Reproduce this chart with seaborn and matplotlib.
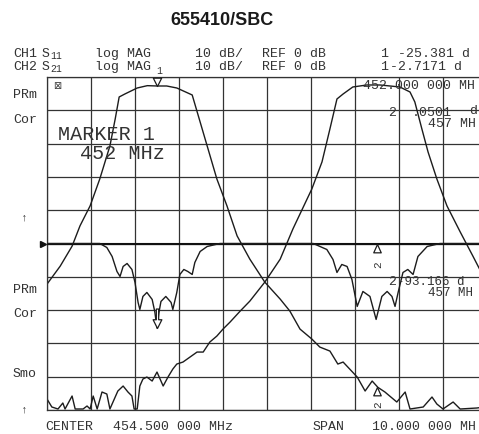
import matplotlib
matplotlib.use('Agg')
import matplotlib.pyplot as plt
import seaborn as sns
import numpy as np
from matplotlib.path import Path

# ---- data (MHz, dB) ----
s21_lo_freq = [449.50, 449.80, 450.07, 450.25, 450.48, 450.70, 450.93, 451.05, 451.14, 451.27,
               451.55, 451.78, 452.00, 452.22, 452.45, 452.80, 452.98, 453.14, 453.36, 453.59,
               453.82, 454.11, 454.45, 454.80, 455.02, 455.25, 455.52, 455.70, 455.93, 456.11,
               456.23, 456.55, 456.73, 456.89, 457.02, 457.18, 457.45, 457.64, 457.75, 458.05,
               458.25, 458.36, 458.50, 458.73, 458.89, 459.27, 459.50]
s21_lo_db = [-62.2, -56.8, -50.8, -44.7, -38.7, -30.6, -20.7, -12.6, -6.0, -5.1,
             -3.3, -2.6, -2.7, -2.7, -3.3, -5.4, -13.5, -20.7, -30.6, -38.7,
             -47.7, -54.7, -61.6, -66.7, -70.3, -75.7, -78.7, -81.1, -82.3, -86.2,
             -85.6, -90.1, -94.3, -91.3, -93.2, -94.6, -97.6, -94.6, -99.7, -99.1,
             -96.1, -98.2, -99.7, -97.6, -99.7, -99.4, -99.0]

s21_hi_freq = [449.50, 449.61, 449.75, 449.86, 449.91, 450.07, 450.14, 450.32, 450.41, 450.48,
               450.55, 450.64, 450.75, 450.86, 450.93, 451.11, 451.23, 451.34, 451.43, 451.48,
               451.55, 451.61, 451.68, 451.77, 451.89, 452.00, 452.14, 452.25, 452.36, 452.45,
               452.59, 452.75, 452.91, 453.05, 453.20, 453.36, 453.50, 453.66, 453.89, 454.11,
               454.45, 454.80, 455.09, 455.52, 455.75, 455.93, 456.09, 456.23, 456.45, 456.77,
               457.07, 457.52, 457.75, 457.86, 458.02, 458.16, 458.36, 458.59, 458.89, 459.18,
               459.50]
s21_hi_db = [-96.7, -99.1, -99.7, -97.9, -99.7, -95.8, -99.7, -99.7, -98.8, -99.7,
             -95.8, -99.7, -94.6, -95.2, -99.7, -94.3, -92.8, -94.6, -95.8, -99.7,
             -99.7, -92.8, -90.7, -90.1, -91.3, -88.6, -92.8, -90.1, -87.7, -86.2,
             -85.6, -84.1, -82.6, -82.6, -79.6, -77.8, -75.7, -73.6, -70.3, -67.3,
             -61.6, -54.7, -45.6, -33.6, -25.5, -15.6, -6.6, -5.1, -3.0, -2.4,
             -2.4, -3.0, -4.5, -7.5, -15.6, -22.5, -30.6, -38.7, -46.5, -53.8,
             -62.0]

s11_freq = [449.50, 450.70, 450.86, 450.98, 451.09, 451.16, 451.23, 451.32, 451.43, 451.50,
            451.57, 451.61, 451.68, 451.77, 451.89, 451.95, 452.00, 452.04, 452.09, 452.20,
            452.32, 452.36, 452.45, 452.52, 452.61, 452.70, 452.80, 452.86, 452.98, 453.14,
            453.43, 455.55, 455.86, 456.00, 456.09, 456.20, 456.32, 456.43, 456.55, 456.68,
            456.84, 456.98, 457.11, 457.23, 457.34, 457.41, 457.48, 457.59, 457.70, 457.82,
            457.93, 458.14, 458.43, 459.50]
s11_db = [0, 0, -1.2, -3.9, -8.4, -9.9, -6.9, -6.0, -7.8, -11.7,
          -17.7, -19.8, -15.9, -14.7, -16.8, -20.5, -25.4, -21.0, -17.4, -15.9,
          -17.7, -19.8, -14.7, -9.3, -7.8, -8.4, -9.3, -5.7, -2.4, -0.9,
          0, 0, -1.8, -4.8, -8.7, -6.3, -6.9, -10.8, -18.9, -14.4,
          -15.9, -22.8, -15.9, -14.4, -15.9, -18.9, -14.7, -8.7, -7.8, -9.3,
          -3.9, -0.9, 0, 0]

marker1_freq = 452.0
marker2_freq = 457.0
marker1_s11 = -25.381
marker1_s21 = -2.7171
marker2_s11 = -0.0501
marker2_s21 = -93.166

center_mhz = 454.5
span_mhz = 10.0

# ---- style ----
sns.set_theme(style='white')
plt.rcParams['font.family'] = ['Liberation Mono', 'DejaVu Sans']

W, H = 479, 435
fig = plt.figure(figsize=(W / 100, H / 100), dpi=100)
fig.patch.set_facecolor('white')

ax = fig.add_axes([47 / W, 1 - 411 / H, 440 / W, 333 / H])
ax.set_facecolor('white')
x0 = center_mhz - span_mhz / 2
x1 = center_mhz + span_mhz / 2
ax.set_xlim(x0, x1)
ax.set_ylim(-100, 0)
ax.set_xticks(np.arange(x0, x1 + 0.01, 1.0))
ax.set_yticks(np.arange(-100, 0.1, 10))
ax.grid(True, color='#333333', lw=0.9)
ax.tick_params(length=0, labelbottom=False, labelleft=False)
for s in ax.spines.values():
    s.set_color('#333333')
    s.set_linewidth(0.9)

ax2 = ax.twinx()
ax2.set_ylim(-50, 50)
ax2.set_yticks([])
for s in ax2.spines.values():
    s.set_visible(False)
ax2.axhline(0, color='#111111', lw=1.5)

lc = '#1c1c1c'
sns.lineplot(x=s21_lo_freq, y=s21_lo_db, ax=ax, color=lc, lw=1.0, sort=False, estimator=None)
sns.lineplot(x=s21_hi_freq, y=s21_hi_db, ax=ax, color=lc, lw=1.0, sort=False, estimator=None)
sns.lineplot(x=s11_freq, y=s11_db, ax=ax2, color=lc, lw=1.0, sort=False, estimator=None)
ax.set_xlabel(''); ax.set_ylabel(''); ax2.set_ylabel('')

# marker symbols
down_tri = Path([(0, 0), (-0.5, 1), (0.5, 1), (0, 0)],
                [Path.MOVETO, Path.LINETO, Path.LINETO, Path.CLOSEPOLY])
up_tri = Path([(0, 0), (-0.45, -1), (0.45, -1), (0, 0)],
              [Path.MOVETO, Path.LINETO, Path.LINETO, Path.CLOSEPOLY])
down_arrow = Path([(0, 0), (-0.45, 0.9), (-0.12, 0.9), (-0.12, 2.0), (0.12, 2.0),
                   (0.12, 0.9), (0.45, 0.9), (0, 0)],
                  [Path.MOVETO] + [Path.LINETO] * 6 + [Path.CLOSEPOLY])
mk = dict(mfc='white', mec='#1c1c1c', mew=0.9, ls='none', clip_on=False, zorder=5)
ax.plot([marker1_freq], [marker1_s21], marker=down_tri, ms=12, **mk)
ax.plot([marker2_freq], [marker2_s21], marker=up_tri, ms=12, **mk)
ax2.plot([marker1_freq], [marker1_s11], marker=down_arrow, ms=28, **mk)
ax2.plot([marker2_freq], [marker2_s11], marker=up_tri, ms=12, **mk)
ax2.plot([x0 - 0.08], [0], marker='>', ms=4, color='#111111', ls='none', clip_on=False)


def t(x, y, s, size=9.5, **kw):
    kw.setdefault('color', '#333333')
    fig.text(x / W, 1 - y / H, s, fontsize=size, va='baseline', ha='left', **kw)


# title
fig.text(222 / W, 1 - 25 / H, '655410/SBC', fontsize=13, fontweight='bold',
         family=['Liberation Sans', 'DejaVu Sans'], ha='center', va='baseline', color='#1a1a1a')

# header
t(13, 57, 'CH1')
t(42, 57, 'S')
t(50, 59, '11', size=7)
t(95, 57, 'log MAG')
t(195, 57, '10 dB/')
t(262, 57, 'REF 0 dB')
t(380, 57, '1')
t(398, 57, '-25.381 d')
t(13, 70, 'CH2')
t(42, 70, 'S')
t(50, 72, '21', size=7)
t(95, 70, 'log MAG')
t(156, 74, '1', size=7)
t(195, 70, '10 dB/')
t(262, 70, 'REF 0 dB')
t(380, 70, '1')
t(390, 70, '-2.7171 d')

# left annotations
t(13, 98, 'PRm')
t(13, 123, 'Cor')
t(21, 220, '↑', size=8)
t(13, 293, 'PRm')
t(13, 317, 'Cor')
t(13, 377, 'Smo')
t(21, 412, '↑', size=8)
t(53, 89, '⊠', size=7, family=['DejaVu Sans'])

# marker text
t(58, 140, 'MARKER 1', size=14.5)
t(80, 159, '452 MHz', size=14.5)
t(363, 89, '452.000 000 MH')
t(388, 116, '2')
t(412, 116, '.0501')
t(469, 114, 'd')
t(428, 127, '457 MH')
t(388, 285, '2')
t(397, 285, '-93.166 d', size=9)
t(428, 296, '457 MH', size=9)
t(373, 266, '2', size=8, rotation=90)
t(373, 406, '2', size=8, rotation=90)

# footer
t(45, 430, 'CENTER')
t(113, 430, '454.500 000 MHz')
t(313, 430, 'SPAN')
t(372, 430, '10.000 000 MH')

fig.savefig('out.png', dpi=100)
